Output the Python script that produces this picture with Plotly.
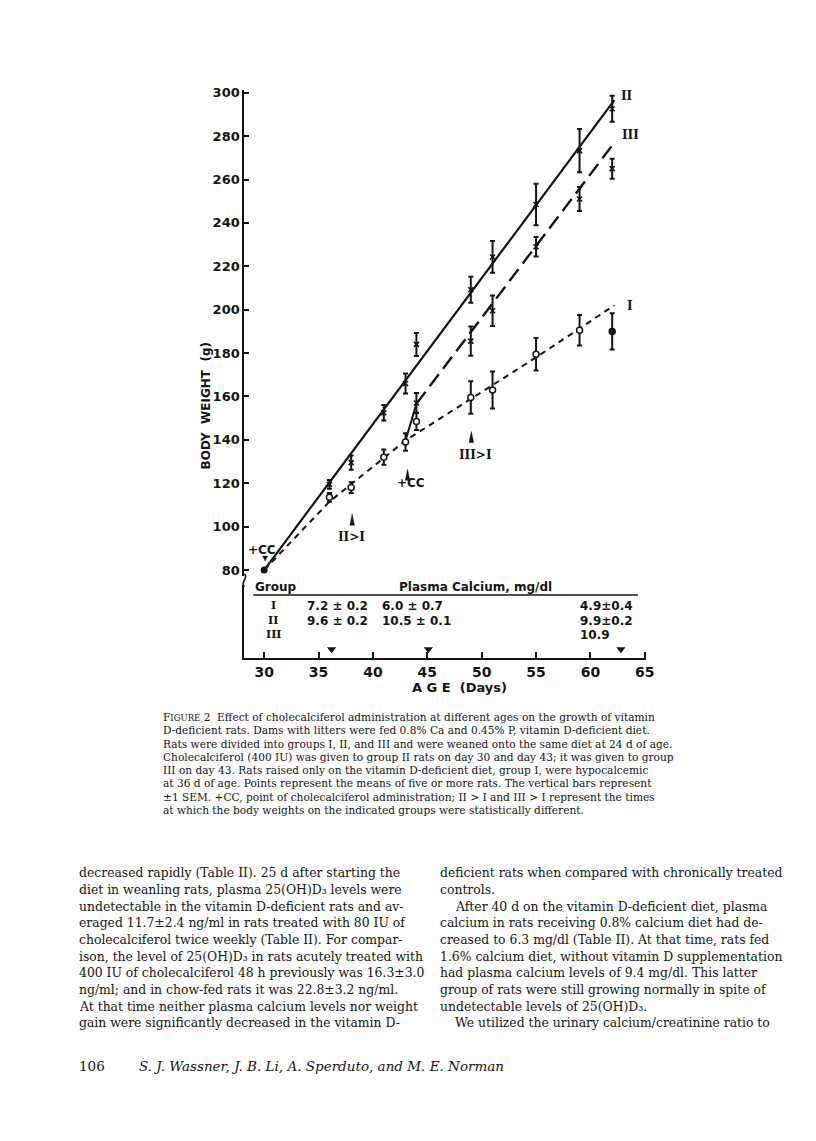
import plotly.graph_objects as go

W, H = 816, 1141

# ---------------- data ----------------
days = [36, 38, 41, 43, 44, 49, 51, 55, 59, 62]
group_I_mean = [113.5, 118, 132, 139, 148.5, 159.5, 163, 179.5, 190.5, 190]
group_I_sem = [2, 2.5, 3.5, 4, 4, 7.5, 8.5, 7.5, 7, 8.3]
group_II_mean = [119.5, 129.5, 152.5, 166, 184, 209.2, 224.3, 248.5, 273.3, 292.6]
group_II_sem = [2, 3.3, 3.6, 4.6, 5.3, 6, 7.3, 9.6, 10, 6]
days_III = [44, 49, 51, 55, 59, 62]
group_III_mean = [157, 185.5, 199.5, 229, 251, 265]
group_III_sem = [4.6, 6.7, 7, 4.5, 5.5, 4.6]

start_day = [30]
start_weight = [80]

fit_I_days = [30, 36, 43, 49, 55, 62.2]
fit_I_weight = [80, 111.5, 139.7, 159, 178, 202]
fit_II_days = [30, 62.2]
fit_II_weight = [80, 296.6]
fit_III_jump_days = [43, 44]
fit_III_jump_weight = [139.7, 156.6]
fit_III_days = [44, 62.2]
fit_III_weight = [156.6, 277]

y_ticks = [80, 100, 120, 140, 160, 180, 200, 220, 240, 260, 280, 300]
x_ticks = [30, 35, 40, 45, 50, 55, 60, 65]

calcium_groups = ["I", "II", "III"]
calcium_col1 = ["7.2 ± 0.2", "9.6 ± 0.2", ""]
calcium_col2 = ["6.0 ± 0.7", "10.5 ± 0.1", ""]
calcium_col3 = ["4.9±0.4", "9.9±0.2", "10.9"]
sample_days = [36.2, 45.1, 62.8]

caption_lines = [
    "F<span style='font-size:8.5px'>IGURE</span> 2  Effect of cholecalciferol administration at different ages on the growth of vitamin",
    "D-deficient rats. Dams with litters were fed 0.8% Ca and 0.45% P, vitamin D-deficient diet.",
    "Rats were divided into groups I, II, and III and were weaned onto the same diet at 24 d of age.",
    "Cholecalciferol (400 IU) was given to group II rats on day 30 and day 43; it was given to group",
    "III on day 43. Rats raised only on the vitamin D-deficient diet, group I, were hypocalcemic",
    "at 36 d of age. Points represent the means of five or more rats. The vertical bars represent",
    "±1 SEM. +CC, point of cholecalciferol administration; II > I and III > I represent the times",
    "at which the body weights on the indicated groups were statistically different.",
]
left_col_lines = [
    "decreased rapidly (Table II). 25 d after starting the",
    "diet in weanling rats, plasma 25(OH)D₃ levels were",
    "undetectable in the vitamin D-deficient rats and av-",
    "eraged 11.7±2.4 ng/ml in rats treated with 80 IU of",
    "cholecalciferol twice weekly (Table II). For compar-",
    "ison, the level of 25(OH)D₃ in rats acutely treated with",
    "400 IU of cholecalciferol 48 h previously was 16.3±3.0",
    "ng/ml; and in chow-fed rats it was 22.8±3.2 ng/ml.",
    "At that time neither plasma calcium levels nor weight",
    "gain were significantly decreased in the vitamin D-",
]
right_col_lines = [
    "deficient rats when compared with chronically treated",
    "controls.",
    "After 40 d on the vitamin D-deficient diet, plasma",
    "calcium in rats receiving 0.8% calcium diet had de-",
    "creased to 6.3 mg/dl (Table II). At that time, rats fed",
    "1.6% calcium diet, without vitamin D supplementation",
    "had plasma calcium levels of 9.4 mg/dl. This latter",
    "group of rats were still growing normally in spite of",
    "undetectable levels of 25(OH)D₃.",
    "We utilized the urinary calcium/creatinine ratio to",
]
right_col_indent = [False, False, True, False, False, False, False, False, False, True]
page_number = "106"
authors = "S. J. Wassner, J. B. Li, A. Sperduto, and M. E. Norman"

# ---------------- helpers ----------------
def px(x):
    return x / W

def py(y):
    return 1 - y / H

INK = "#141414"
SANS = "DejaVu Sans"
SERIF = "DejaVu Serif"

fig = go.Figure()

# fitted lines
fig.add_trace(go.Scatter(x=fit_I_days, y=fit_I_weight, mode="lines",
                         line=dict(color=INK, width=2, dash="6px,5px"), hoverinfo="skip"))
fig.add_trace(go.Scatter(x=fit_II_days, y=fit_II_weight, mode="lines",
                         line=dict(color=INK, width=2.2), hoverinfo="skip"))
fig.add_trace(go.Scatter(x=fit_III_jump_days, y=fit_III_jump_weight, mode="lines",
                         line=dict(color=INK, width=2), hoverinfo="skip"))
fig.add_trace(go.Scatter(x=fit_III_days, y=fit_III_weight, mode="lines",
                         line=dict(color=INK, width=2.4, dash="15px,7px"), hoverinfo="skip"))

err_style = dict(type="data", thickness=2, width=2.5, color=INK)

# group II
fig.add_trace(go.Scatter(x=days, y=group_II_mean, mode="markers",
                         error_y=dict(array=group_II_sem, **err_style),
                         marker=dict(symbol="x-thin", size=5, line=dict(color=INK, width=1.6))))
# group III
fig.add_trace(go.Scatter(x=days_III, y=group_III_mean, mode="markers",
                         error_y=dict(array=group_III_sem, **err_style),
                         marker=dict(symbol="x-thin", size=5, line=dict(color=INK, width=1.6))))
# group I
fill_I = ["white"] * (len(days) - 1) + [INK]
fig.add_trace(go.Scatter(x=days, y=group_I_mean, mode="markers",
                         error_y=dict(array=group_I_sem, **err_style),
                         marker=dict(symbol="circle", size=6, color=fill_I,
                                     line=dict(color=INK, width=1.5))))
# start point
fig.add_trace(go.Scatter(x=start_day, y=start_weight, mode="markers",
                         marker=dict(symbol="circle", size=7, color=INK)))
# sampling-time arrows in the table
fig.add_trace(go.Scatter(x=sample_days, y=[43.5] * len(sample_days), mode="markers",
                         marker=dict(symbol="triangle-down", size=8, color=INK)))

# ---------------- annotations ----------------
ann = []

def text(x, y, s, size=12, family=SANS, anchor="center", bold=False, angle=0, italic=False):
    t = f"<b>{s}</b>" if bold else s
    if italic:
        t = f"<i>{t}</i>"
    ann.append(dict(x=px(x), y=py(y), xref="paper", yref="paper", text=t, showarrow=False,
                    xanchor=anchor, yanchor="middle", textangle=angle,
                    font=dict(family=family, size=size, color=INK)))

# axis titles
text(200, 395, "BODY\u00a0 WEIGHT\u00a0 (g)", size=12, bold=True, angle=-90)
text(457, 678, "A G E\u00a0 (Days)", size=13, bold=True)

# chart annotations
text(257, 540, "+CC", size=12, bold=True)
text(407, 473, "+CC", size=12, bold=True)
text(347, 527, "II>I", size=12, family=SERIF, bold=True)
text(473, 445, "III>I", size=12, family=SERIF, bold=True)
text(626, 84, "II", size=12, family=SERIF, bold=True)
text(629, 123, "III", size=12, family=SERIF, bold=True)
text(629, 295, "I", size=12, family=SERIF, bold=True)

# table
text(248, 577, "Group", size=12, bold=True, anchor="left")
text(473, 577, "Plasma Calcium, mg/dl", size=12, bold=True)
row_y = [596, 611, 625]
for g, a, b, c, yy in zip(calcium_groups, calcium_col1, calcium_col2, calcium_col3, row_y):
    text(268, yy, g, size=11, family=SERIF, bold=True)
    if a:
        text(333, yy, a, size=12, bold=True)
    if b:
        text(376, yy, b, size=12, bold=True, anchor="left")
    if c:
        text(576, yy, c, size=12, bold=True, anchor="left")

# caption
for i, line in enumerate(caption_lines):
    text(155, 707.7 + i * 13.3, line, size=10.6, family=SERIF, anchor="left")

# body text
for i, line in enumerate(left_col_lines):
    text(70, 864 + i * 16.7, line, size=12.4, family=SERIF, anchor="left")
for i, (line, ind) in enumerate(zip(right_col_lines, right_col_indent)):
    text(450 if ind else 435, 864 + i * 16.7, line, size=12.4, family=SERIF, anchor="left")

# footer
text(70, 1058, page_number, size=13.5, family=SERIF, anchor="left")
text(130, 1058, authors, size=13.5, family=SERIF, anchor="left", italic=True)

# ---------------- shapes ----------------
shapes = []

def tri_up(x, ytip, h=11, w=4.5):
    shapes.append(dict(type="path", xref="paper", yref="paper",
                       path=f"M {px(x)} {py(ytip)} L {px(x - w/2)} {py(ytip + h)} L {px(x + w/2)} {py(ytip + h)} Z",
                       fillcolor=INK, line=dict(color=INK, width=0.5)))

tri_up(348, 504)
tri_up(404, 459)
tri_up(468.5, 421)

# small "v" under start +CC
shapes.append(dict(type="path", xref="paper", yref="paper",
                   path=f"M {px(257.5)} {py(546)} L {px(260)} {py(551)} L {px(262.5)} {py(546)} Z",
                   fillcolor=INK, line=dict(color=INK, width=0.5)))

# table rule
shapes.append(dict(type="line", xref="paper", yref="paper",
                   x0=px(248), x1=px(637), y0=py(585), y1=py(585),
                   line=dict(color=INK, width=1.6)))

# axis break on the y axis
shapes.append(dict(type="rect", xref="paper", yref="paper",
                   x0=px(236), x1=px(242), y0=py(575), y1=py(566),
                   fillcolor="white", line=dict(width=0)))
shapes.append(dict(type="path", xref="paper", yref="paper",
                   path=f"M {px(239)} {py(564)} C {px(244)} {py(567)}, {px(234)} {py(573)}, {px(239)} {py(577)}",
                   line=dict(color=INK, width=1.6)))

fig.update_layout(
    width=W, height=H,
    margin=dict(l=0, r=0, t=0, b=0),
    paper_bgcolor="white", plot_bgcolor="white",
    showlegend=False,
    annotations=ann,
    shapes=shapes,
    xaxis=dict(domain=[px(239), px(645)], range=[28.18, 65.1],
               tickvals=x_ticks, ticks="inside", ticklen=6, tickwidth=1.6, tickcolor=INK,
               showline=True, linewidth=2, linecolor=INK, showgrid=False, zeroline=False,
               tickfont=dict(family=SANS, size=14, color=INK, weight="bold"),
               anchor="y"),
    yaxis=dict(domain=[py(648), py(78)], range=[39.58, 301.38],
               tickvals=y_ticks, ticks="inside", ticklen=5, tickwidth=1.6, tickcolor=INK,
               showline=True, linewidth=2, linecolor=INK, showgrid=False, zeroline=False,
               tickfont=dict(family=SANS, size=13, color=INK, weight="bold"),
               anchor="x"),
)

fig.write_html("out.html")
